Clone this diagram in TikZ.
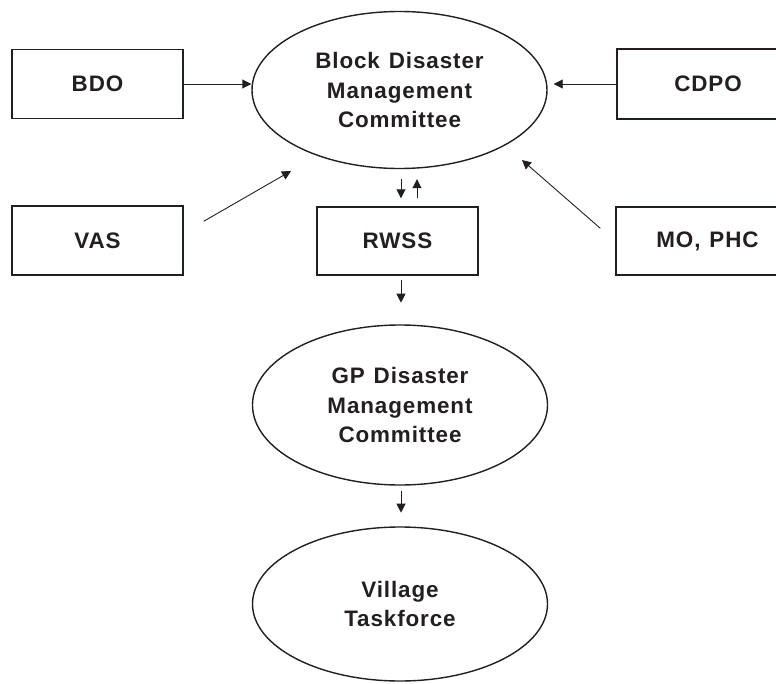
\documentclass[tikz,border=0pt]{standalone}
\usepackage{fontspec}
\setmainfont{Liberation Sans}[LetterSpace=4]
\usetikzlibrary{shapes.geometric,arrows.meta,calc}
\definecolor{ink}{HTML}{231F20}
\begin{document}
\begin{tikzpicture}[x=1bp,y=-1bp,
  every node/.style={font=\fontsize{22.5}{29.5}\selectfont\bfseries, text=ink},
  unit/.style={draw=ink, line width=1.4bp, rectangle, inner sep=0pt},
  body/.style={draw=ink, line width=1.4bp, ellipse, inner sep=0pt, align=center},
  link/.style={draw=ink, line width=0.9bp, -{Triangle[length=9bp,width=9bp]}}
]
\useasboundingbox (0,0) rectangle (776,684);
\clip (0,0) rectangle (776,684);

% committees
\node[body, minimum width=295bp, minimum height=157bp] (bmc) at (399.5,90)
  {Block\hspace{0.4em}Disaster\\Management\\Committee};
\node[body, minimum width=295bp, minimum height=160bp] (gp) at (400,405)
  {GP\hspace{0.4em}Disaster\\Management\\Committee};
\node[body, minimum width=295bp, minimum height=154bp] (vt) at (400,604)
  {Village\\Taskforce};

% offices
\node[unit, minimum width=171bp, minimum height=69bp] (bdo) at (97.5,84) {BDO};
\node[unit, minimum width=171bp, minimum height=69bp] (vas) at (97.5,240.5) {VAS};
\node[unit, minimum width=161bp, minimum height=68bp] (rwss) at (397.5,241) {RWSS};
\node[unit, minimum width=182bp, minimum height=70bp] (cdpo) at (708,84) {CDPO};
\node[unit, minimum width=183bp, minimum height=68bp] (mo) at (707.5,241) {MO,\hspace{0.4em}PHC};

% reporting lines into the block committee
\draw[link] (bdo.east) -- (bdo.east -| bmc.west);
\draw[link] (cdpo.west) -- ($(cdpo.west -| bmc.east)+(6,0)$);
\coordinate (vasfoot) at ($(vas.north east)+(20,16)$);
\coordinate (vastip) at (291,171);
\draw[link] (vasfoot) -- (vastip);
\coordinate (mofoot) at ($(mo.north west)+(-15,22)$);
\coordinate (motip) at (522,160);
\draw[link] (mofoot) -- (motip);

% two-way link with RWSS
\draw[link] ($(bmc.south)+(1.5,10)$) -- ($(rwss.north)+(3.5,-8)$);
\draw[link] ($(rwss.north)+(19.5,-8)$) -- ($(bmc.south)+(17.5,10)$);

% downward chain
\draw[link] ($(rwss.south)+(3.5,4)$) -- ($(rwss.south)+(3.5,27)$);
\draw[link] ($(gp.south)+(1,5)$) -- ($(gp.south)+(1,27)$);
\end{tikzpicture}
\end{document}
